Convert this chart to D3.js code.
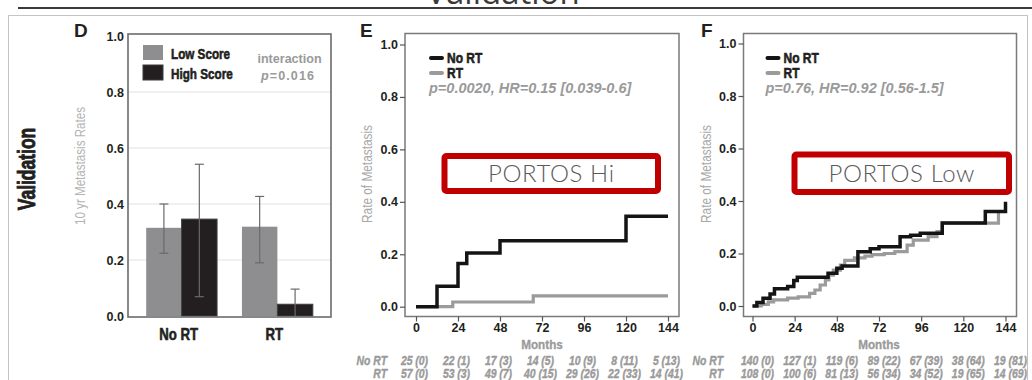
<!DOCTYPE html>
<html>
<head>
<meta charset="utf-8">
<script src="https://cdn.jsdelivr.net/npm/d3@7"></script>
<style>
  html, body { margin: 0; padding: 0; background: #fff; }
  svg { display: block; }
</style>
</head>
<body>
<svg id="chart" width="1032" height="380"></svg>
<script>
// ---- Panel D: 10-year metastasis rates by score group ----
const barGroups = ["No RT", "RT"];
const barSeries = ["Low Score", "High Score"];
const lowScoreRate = [0.315, 0.319];
const highScoreRate = [0.346, 0.042];
const lowScoreCI = [[0.224, 0.400], [0.190, 0.427]];
const highScoreCI = [[0.069, 0.542], [0.000, 0.096]];
const rateTicks = [0, 0.2, 0.4, 0.6, 0.8, 1.0];

// ---- Panels E / F: cumulative metastasis, [month, rate] at each step ----
const monthTicks = [0, 24, 48, 72, 96, 120, 144];
const hiNoRT = [[0, 0], [12, 0.078], [24, 0.165], [29, 0.205], [48, 0.252], [120, 0.345], [144, 0.345]];
const hiRT = [[0, 0], [21, 0.018], [67, 0.041], [144, 0.041]];
const lowNoRT = [[0, 0], [2.5, 0.013], [6, 0.03], [10, 0.046], [12.5, 0.066], [20, 0.074], [23.5, 0.097],
  [25.5, 0.11], [43, 0.125], [48, 0.144], [51, 0.152], [60, 0.207], [67, 0.218], [72, 0.226], [84, 0.264],
  [90, 0.27], [95.5, 0.277], [108, 0.316], [132.5, 0.36], [144, 0.397]];
const lowRT = [[0, 0], [5, 0.006], [9, 0.016], [12, 0.023], [20, 0.03], [26, 0.035], [32.5, 0.048],
  [35.5, 0.061], [38.5, 0.08], [41.5, 0.099], [43.5, 0.118], [46, 0.137], [50, 0.156], [52.5, 0.174],
  [58, 0.183], [64, 0.19], [68, 0.196], [75, 0.2], [81, 0.207], [88, 0.232], [91.5, 0.251], [100, 0.264],
  [105, 0.283], [108, 0.316], [140, 0.36], [144, 0.36]];

// numbers at risk (events)
const riskHiNoRT = ["25 (0)", "22 (1)", "17 (3)", "14 (5)", "10 (9)", "8 (11)", "5 (13)"];
const riskHiRT = ["57 (0)", "53 (3)", "49 (7)", "40 (15)", "29 (26)", "22 (33)", "14 (41)"];
const riskLowNoRT = ["140 (0)", "127 (1)", "119 (6)", "89 (22)", "67 (39)", "38 (64)", "19 (81)"];
const riskLowRT = ["108 (0)", "100 (6)", "81 (13)", "56 (34)", "34 (52)", "19 (65)", "14 (69)"];

const SANS = "'Liberation Sans', Arial, sans-serif";
const GREY_TXT = "#9a9a9a";
const DARK = "#231f20";

const svg = d3.select("#chart");

// Text helper: a positioned group holding a horizontally condensed label
function label(parent, o) {
  const g = parent.append("g")
    .attr("transform", `translate(${o.x},${o.y})` + (o.rotate ? ` rotate(${o.rotate})` : ""));
  const fill = o.fill || DARK;
  const t = g.append("text")
    .attr("transform", `scale(${o.k || 1},1)`)
    .attr("text-anchor", o.anchor || "start")
    .attr("dy", o.dy || "0.36em")
    .attr("font-family", o.family || SANS)
    .attr("font-size", o.size)
    .attr("font-weight", o.weight || "normal")
    .attr("font-style", o.style || "normal")
    .attr("letter-spacing", o.ls || null)
    .attr("fill", fill);
  if (o.heavy) t.attr("stroke", fill).attr("stroke-width", o.heavy).attr("stroke-linejoin", "round");
  if (o.parts) {
    o.parts.forEach(p => t.append("tspan").attr("font-style", p.style || null).text(p.text));
  } else {
    t.text(o.text);
  }
  return t;
}

// page frame and heading rule
svg.append("rect").attr("x", 8.5).attr("y", 15.5).attr("width", 1019).attr("height", 400)
  .attr("fill", "none").attr("stroke", "#c4c4c4").attr("stroke-width", 1);
svg.append("line").attr("x1", 18).attr("x2", 1032).attr("y1", 8).attr("y2", 8)
  .attr("stroke", "#3a3a3a").attr("stroke-width", 2);
svg.append("text").attr("x", 503).attr("y", 4).attr("text-anchor", "middle")
  .attr("font-family", "'Open Sans', sans-serif").attr("font-size", 33).attr("fill", "#3a3a3a")
  .text("Validation");

// row heading
label(svg, { x: 27, y: 169, rotate: -90, text: "Validation", size: 23, weight: "bold", k: 0.76,
  anchor: "middle", heavy: 0.9 });

// ================= Panel D =================
(function () {
  const box = { l: 128, r: 331, t: 34, b: 317 };
  const y = d3.scaleLinear().domain([0, 1]).range([316, 36]);
  const x0 = d3.scaleBand().domain(barGroups).range([box.l, box.r]).paddingInner(0.26).paddingOuter(0.19);
  const x1 = d3.scaleBand().domain(barSeries).range([0, x0.bandwidth()]);
  const fill = d3.scaleOrdinal().domain(barSeries).range(["#8e8e90", DARK]);
  const g = svg.append("g");

  // grid
  g.selectAll("line.grid").data(rateTicks.slice(1, -1)).join("line")
    .attr("x1", box.l).attr("x2", box.r).attr("y1", d => y(d)).attr("y2", d => y(d))
    .attr("stroke", "#e2e2e2").attr("stroke-width", 1);

  const rows = barGroups.map((grp, i) => [
    { grp, s: barSeries[0], v: lowScoreRate[i], ci: lowScoreCI[i] },
    { grp, s: barSeries[1], v: highScoreRate[i], ci: highScoreCI[i] }
  ]).flat();

  g.selectAll("rect.bar").data(rows).join("rect")
    .attr("x", d => x0(d.grp) + x1(d.s)).attr("width", x1.bandwidth())
    .attr("y", d => y(d.v)).attr("height", d => y(0) - y(d.v))
    .attr("fill", d => fill(d.s))
    .attr("stroke", d => d.s === barSeries[1] ? "#3d3d3d" : "none").attr("stroke-width", 1);

  // error bars
  const eb = g.selectAll("g.err").data(rows).join("g")
    .attr("transform", d => `translate(${x0(d.grp) + x1(d.s) + x1.bandwidth() / 2},0)`);
  eb.append("line").attr("y1", d => y(d.ci[0])).attr("y2", d => y(d.ci[1]))
    .attr("stroke", "#6a6a6a").attr("stroke-width", 1.2);
  eb.append("line").attr("x1", -4.5).attr("x2", 4.5).attr("y1", d => y(d.ci[1])).attr("y2", d => y(d.ci[1]))
    .attr("stroke", "#6a6a6a").attr("stroke-width", 1.2);
  eb.append("line").attr("x1", -4.5).attr("x2", 4.5).attr("y1", d => y(d.ci[0])).attr("y2", d => y(d.ci[0]))
    .attr("stroke", "#6a6a6a").attr("stroke-width", 1.2)
    .attr("display", d => d.ci[0] > 0 ? null : "none");

  // frame
  g.append("rect").attr("x", box.l).attr("y", box.t).attr("width", box.r - box.l).attr("height", box.b - box.t)
    .attr("fill", "none").attr("stroke", "#6b6b6b").attr("stroke-width", 1.6);

  // y axis labels
  const ya = g.append("g").attr("transform", `translate(${box.l},0)`)
    .call(d3.axisLeft(y).tickValues(rateTicks).tickFormat(d3.format(".1f")).tickSize(0).tickPadding(4));
  ya.select(".domain").remove();
  ya.selectAll("text").attr("font-family", SANS).attr("font-weight", "bold").attr("font-size", 12.5)
    .attr("fill", DARK);

  // x axis labels
  const xa = g.append("g").attr("transform", `translate(0,${box.b})`)
    .call(d3.axisBottom(x0).tickSize(0).tickFormat(() => ""));
  xa.select(".domain").remove();
  xa.selectAll(".tick").each(function (d) {
    label(d3.select(this), { x: -3, y: 17, text: d, size: 16.5, weight: "bold", k: 0.8, anchor: "middle",
      heavy: 0.6 });
  });

  label(g, { x: 80, y: 166, rotate: -90, text: "10 yr Metastasis Rates", size: 14, k: 0.83,
    anchor: "middle", fill: "#b4b4b4" });

  g.append("text").attr("x", 74).attr("y", 37).attr("font-family", SANS).attr("font-weight", "bold")
    .attr("font-size", 19).attr("fill", DARK).text("D");

  // legend
  const lg = g.selectAll("g.leg").data(barSeries).join("g")
    .attr("transform", (d, i) => `translate(143,${45 + i * 20})`);
  lg.append("rect").attr("width", 20).attr("height", 15).attr("fill", d => fill(d))
    .attr("stroke", d => d === barSeries[1] ? "#3d3d3d" : "none");
  lg.each(function (d) {
    label(d3.select(this), { x: 28, y: 8.5, text: d, size: 15, weight: "bold", k: 0.78, heavy: 0.6 });
  });

  label(g, { x: 289.5, y: 58, text: "interaction", size: 13.5, weight: "bold", k: 0.93,
    anchor: "middle", fill: GREY_TXT });
  label(g, { x: 288, y: 75, parts: [{ text: "p", style: "italic" }, { text: "=0.016" }], size: 13.5,
    weight: "bold", k: 0.93, ls: 1.2, anchor: "middle", fill: GREY_TXT });
})();

// ================= KM panels =================
function kmPanel(opt) {
  const { box, x, y } = opt;
  const g = svg.append("g");

  const line = d3.line().x(d => x(d[0])).y(d => y(d[1])).curve(d3.curveStepAfter);

  // curves: RT underneath, No RT on top
  g.append("path").datum(opt.rt).attr("d", line).attr("fill", "none")
    .attr("stroke", "#9b9b9b").attr("stroke-width", 3.2).attr("stroke-linejoin", "miter");
  g.append("path").datum(opt.noRT).attr("d", line).attr("fill", "none")
    .attr("stroke", "#141414").attr("stroke-width", 3.5).attr("stroke-linejoin", "miter");

  // frame
  g.append("rect").attr("x", box.l).attr("y", box.t).attr("width", box.r - box.l).attr("height", box.b - box.t)
    .attr("fill", "none").attr("stroke", "#7a7a7a").attr("stroke-width", 1.5);

  const ya = g.append("g").attr("transform", `translate(${box.l},0)`)
    .call(d3.axisLeft(y).tickValues(rateTicks).tickFormat(d3.format(".1f")).tickSize(5).tickPadding(2));
  ya.select(".domain").remove();
  ya.selectAll(".tick line").attr("stroke", "#555").attr("stroke-width", 1.2);
  ya.selectAll("text").attr("font-family", SANS).attr("font-weight", "bold").attr("font-size", 12.5)
    .attr("fill", DARK);

  const xa = g.append("g").attr("transform", `translate(0,${box.b})`)
    .call(d3.axisBottom(x).tickValues(monthTicks).tickSize(5).tickPadding(2));
  xa.select(".domain").remove();
  xa.selectAll(".tick line").attr("stroke", "#555").attr("stroke-width", 1.2);
  xa.selectAll("text").attr("font-family", SANS).attr("font-weight", "bold").attr("font-size", 12.5)
    .attr("fill", DARK);

  label(g, { x: (x(0) + x(144)) / 2, y: 344, text: "Months", size: 13, weight: "bold", k: 0.9,
    anchor: "middle", fill: GREY_TXT, heavy: 0.3 });

  label(g, { x: box.l - 38, y: 174, rotate: -90, text: "Rate of Metastasis", size: 14, k: 0.845,
    anchor: "middle", fill: "#a8a8a8" });

  g.append("text").attr("x", opt.tagX).attr("y", 37).attr("font-family", SANS).attr("font-weight", "bold")
    .attr("font-size", 19).attr("fill", DARK).text(opt.tag);

  // legend
  const legX = box.l + opt.legDx;
  [["No RT", "#141414"], ["RT", "#9b9b9b"]].forEach((d, i) => {
    g.append("line").attr("x1", legX + 2).attr("x2", legX + 13).attr("y1", 58 + i * 15).attr("y2", 58 + i * 15)
      .attr("stroke", d[1]).attr("stroke-width", 4).attr("stroke-linecap", "round");
    label(g, { x: legX + 18, y: 58 + i * 15, text: d[0], size: 15, weight: "bold", k: 0.8, heavy: 0.6 });
  });
  label(g, { x: legX, y: 88, text: opt.stat, size: 14.5, weight: "bold", style: "italic", k: 1.0,
    fill: GREY_TXT });

  // red call-out box
  g.append("rect").attr("x", opt.call.x).attr("y", opt.call.y).attr("width", opt.call.w).attr("height", opt.call.h)
    .attr("rx", 2).attr("fill", "#fff").attr("stroke", "#c00000").attr("stroke-width", 6);
  g.append("text").attr("x", opt.call.x + opt.call.w / 2).attr("y", opt.call.y + opt.call.h / 2)
    .attr("dy", "0.36em").attr("text-anchor", "middle")
    .attr("font-family", "Lato, 'Open Sans', sans-serif").attr("font-weight", 300).attr("font-size", 24)
    .attr("letter-spacing", 0.6).attr("fill", "#5a5a5a").text(opt.call.text);

  // numbers at risk
  [["No RT", opt.riskNo, 360], ["RT", opt.riskRT, 373]].forEach(r => {
    label(g, { x: opt.riskLabelX, y: r[2], text: r[0], size: 13, weight: "bold", style: "italic", k: 0.8,
      anchor: "end", fill: GREY_TXT, heavy: 0.4 });
    r[1].forEach((s, i) => {
      label(g, { x: x(monthTicks[i]) + opt.riskDx, y: r[2], text: s, size: 13, weight: "bold",
        style: "italic", k: 0.8, anchor: "middle", fill: GREY_TXT, heavy: 0.4 });
    });
  });
}

kmPanel({
  box: { l: 405, r: 679, t: 33.5, b: 316.5 },
  x: d3.scaleLinear().domain([0, 144]).range([416, 668]),
  y: d3.scaleLinear().domain([0, 1]).range([306.7, 44.5]),
  noRT: hiNoRT, rt: hiRT, tag: "E", tagX: 360, legDx: 24,
  stat: "p=0.0020, HR=0.15 [0.039-0.6]",
  call: { x: 444.5, y: 156, w: 213.5, h: 35, text: "PORTOS Hi" },
  riskNo: riskHiNoRT, riskRT: riskHiRT, riskLabelX: 387, riskDx: -1.5
});

kmPanel({
  box: { l: 743.5, r: 1016.5, t: 33.5, b: 316.5 },
  x: d3.scaleLinear().domain([0, 144]).range([752.5, 1005.5]),
  y: d3.scaleLinear().domain([0, 1]).range([306, 43.5]),
  noRT: lowNoRT, rt: lowRT, tag: "F", tagX: 701, legDx: 22,
  stat: "p=0.76, HR=0.92 [0.56-1.5]",
  call: { x: 794.5, y: 154.5, w: 214.5, h: 37.5, text: "PORTOS Low" },
  riskNo: riskLowNoRT, riskRT: riskLowRT, riskLabelX: 723, riskDx: 5
});
</script>
</body>
</html>
